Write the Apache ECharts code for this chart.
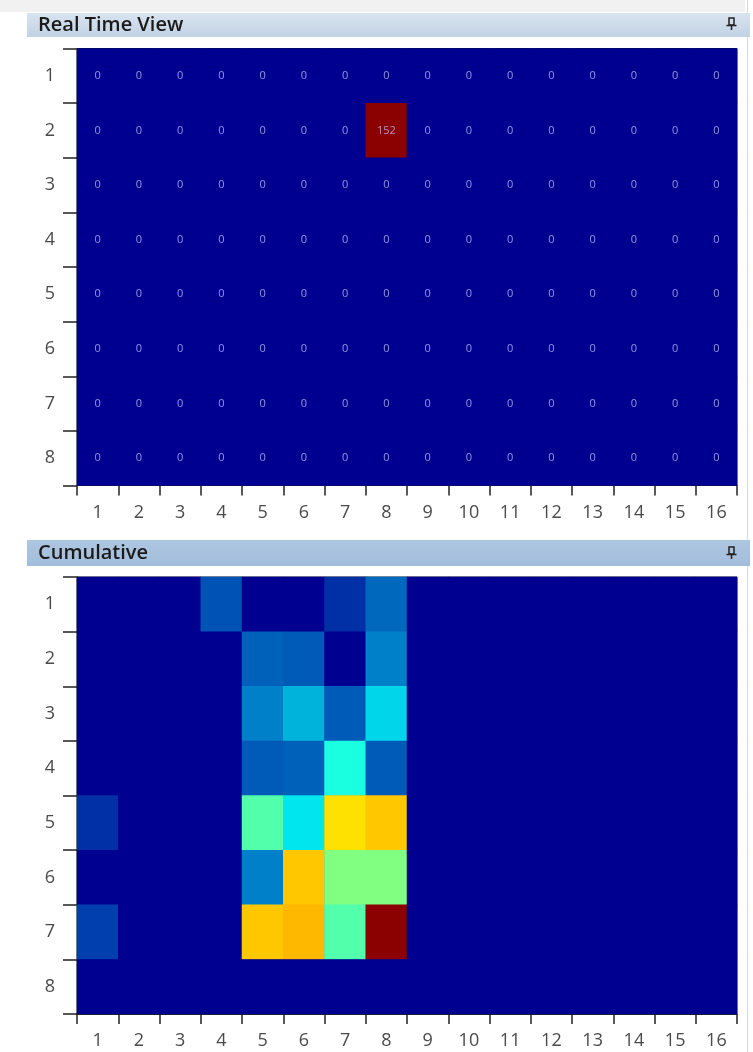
<!DOCTYPE html>
<html><head><meta charset="utf-8">
<script src="https://cdn.jsdelivr.net/npm/echarts@6/dist/echarts.min.js"></script>
<style>html,body{margin:0;padding:0;background:#fff;}#c{width:753px;height:1052px;}</style>
</head><body><div id="c"></div>
<script>
const colLabels = ['1','2','3','4','5','6','7','8','9','10','11','12','13','14','15','16'];
const rowLabels = ['1','2','3','4','5','6','7','8'];
const realTimeTitle = 'Real Time View';
const cumulativeTitle = 'Cumulative';
// rows 1..8, columns 1..16
const realTime = [
  [0,0,0,0,0,0,0,0,0,0,0,0,0,0,0,0],
  [0,0,0,0,0,0,0,152,0,0,0,0,0,0,0,0],
  [0,0,0,0,0,0,0,0,0,0,0,0,0,0,0,0],
  [0,0,0,0,0,0,0,0,0,0,0,0,0,0,0,0],
  [0,0,0,0,0,0,0,0,0,0,0,0,0,0,0,0],
  [0,0,0,0,0,0,0,0,0,0,0,0,0,0,0,0],
  [0,0,0,0,0,0,0,0,0,0,0,0,0,0,0,0],
  [0,0,0,0,0,0,0,0,0,0,0,0,0,0,0,0]
];
const cumulative = [
  [0,0,0,38,0,0,29,44,0,0,0,0,0,0,0,0],
  [0,0,0,0,42,40,0,50,0,0,0,0,0,0,0,0],
  [0,0,0,0,50,60,40,67,0,0,0,0,0,0,0,0],
  [0,0,0,0,40,42,80,40,0,0,0,0,0,0,0,0],
  [29,0,0,0,91,70,131,136,0,0,0,0,0,0,0,0],
  [0,0,0,0,50,136,100,100,0,0,0,0,0,0,0,0],
  [33,0,0,0,136,139,91,200,0,0,0,0,0,0,0,0],
  [0,0,0,0,0,0,0,0,0,0,0,0,0,0,0,0]
];
const realTimeMax = 152;
const cumulativeMax = 200;
const jetColors = ['#000090','#0020A0','#0080C8','#00FFF8','#80FF80','#FFFF00','#FF8000','#FF0000','#8B0000'];

function toCells(m){
  const out=[];
  m.forEach((row,r)=>row.forEach((v,c)=>out.push([c,r,v])));
  return out;
}
const chart = echarts.init(document.getElementById('c'), null, {renderer:'canvas'});
const font = '"Open Sans", "DejaVu Sans", sans-serif';
function xAxis(gi){
  return {type:'category', gridIndex:gi, data:colLabels, boundaryGap:true,
    axisLine:{show:true,lineStyle:{color:'#222',width:1}},
    axisTick:{show:true,length:10,lineStyle:{color:'#222',width:1.5}},
    axisLabel:{margin:18,fontSize:18,color:'#4a4a4a',fontFamily:font},
    splitLine:{show:false}};
}
function yAxis(gi){
  return {type:'category', gridIndex:gi, data:rowLabels, inverse:true, boundaryGap:true,
    axisLine:{show:true,lineStyle:{color:'#222',width:1}},
    axisTick:{show:true,length:14,lineStyle:{color:'#222',width:1.5}},
    axisLabel:{margin:22,fontSize:18,color:'#4a4a4a',fontFamily:font},
    splitLine:{show:false}};
}
function pin(x,y){
  return [
    {type:'rect',shape:{x:x-2,y:y,width:5,height:7},style:{fill:'none',stroke:'#222',lineWidth:1.5}},
    {type:'line',shape:{x1:x-4.5,y1:y+7.5,x2:x+5.5,y2:y+7.5},style:{stroke:'#222',lineWidth:1.5}},
    {type:'line',shape:{x1:x+0.5,y1:y+7.5,x2:x+0.5,y2:y+12},style:{stroke:'#222',lineWidth:1.5}}
  ];
}
const option = {
  animation:false,
  backgroundColor:'#fff',
  grid:[
    {left:77,top:48.5,width:660,height:437,show:true,borderColor:'#222',borderWidth:1,backgroundColor:'#000090'},
    {left:77,top:577,width:660,height:437,show:true,borderColor:'#222',borderWidth:1,backgroundColor:'#000090'}
  ],
  xAxis:[xAxis(0),xAxis(1)],
  yAxis:[yAxis(0),yAxis(1)],
  visualMap:[
    {show:false,type:'continuous',seriesIndex:0,min:0,max:realTimeMax,inRange:{color:jetColors}},
    {show:false,type:'continuous',seriesIndex:1,min:0,max:cumulativeMax,inRange:{color:jetColors}}
  ],
  series:[
    {type:'heatmap',xAxisIndex:0,yAxisIndex:0,data:toCells(realTime),
      label:{show:true,fontSize:11,color:'rgba(195,195,255,0.75)',fontFamily:font,formatter:p=>String(p.value[2])},
      itemStyle:{borderWidth:0},emphasis:{disabled:true}},
    {type:'heatmap',xAxisIndex:1,yAxisIndex:1,data:toCells(cumulative),
      label:{show:false},itemStyle:{borderWidth:0},emphasis:{disabled:true}}
  ],
  graphic:[
    {type:'rect',z:-1,shape:{x:0,y:0,width:745,height:12},style:{fill:'#F1F1F1'}},
    {type:'line',shape:{x1:747.5,y1:0,x2:747.5,y2:1052},style:{stroke:'#D8D8D8',lineWidth:1}},
    {type:'rect',shape:{x:27,y:13,width:723,height:24},
      style:{fill:new echarts.graphic.LinearGradient(0,0,0,1,[{offset:0,color:'#D8E3EF'},{offset:1,color:'#C2D2E4'}])}},
    {type:'text',x:38,y:25,style:{text:realTimeTitle,font:'600 20px '+font,fill:'#1a1a1a',verticalAlign:'middle'}},
    ...pin(731,18),
    {type:'rect',shape:{x:27,y:540,width:723,height:26},
      style:{fill:new echarts.graphic.LinearGradient(0,0,0,1,[{offset:0,color:'#ADC6E1'},{offset:1,color:'#A2BDDB'}])}},
    {type:'text',x:38,y:553,style:{text:cumulativeTitle,font:'600 20px '+font,fill:'#1a1a1a',verticalAlign:'middle'}},
    ...pin(731,547)
  ]
};
chart.setOption(option);
</script></body></html>
